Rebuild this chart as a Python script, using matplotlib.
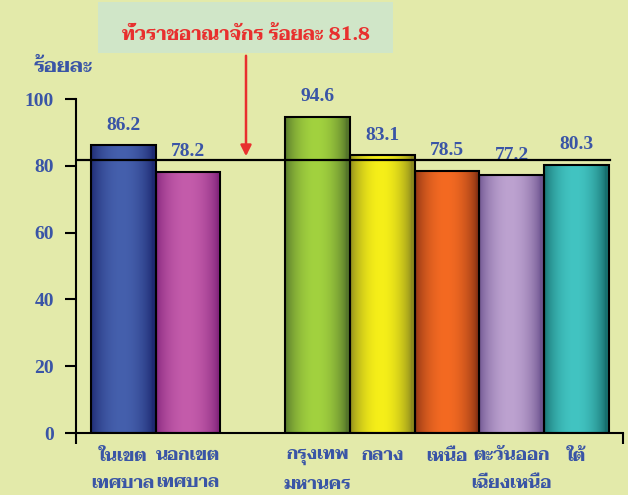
import numpy as np
import matplotlib
matplotlib.use('Agg')
import matplotlib.pyplot as plt
from matplotlib.colors import to_rgb
from matplotlib.patches import Rectangle

# data
categories = ['ในเขต\nเทศบาล', 'นอกเขต\nเทศบาล', 'กรุงเทพ\nมหานคร', 'กลาง', 'เหนือ',
              'ตะวันออก\nเฉียงเหนือ', 'ใต้']
values = [86.2, 78.2, 94.6, 83.1, 78.5, 77.2, 80.3]
positions = [0, 1, 3, 4, 5, 6, 7]
national = 81.8
yticks = [0, 20, 40, 60, 80, 100]

# (edge, centre) colours for the shaded bars
bar_colors = [('#1e2a72', '#4560ad'), ('#86277e', '#c45cab'), ('#55752a', '#a2d23f'),
              ('#8c8a1e', '#f6ef18'), ('#8c3414', '#f46a22'), ('#6e5590', '#bda2d0'),
              ('#17706f', '#42c4c2')]

thai = ['Taviraj', 'Liberation Serif', 'DejaVu Sans']
num = ['Liberation Serif', 'DejaVu Serif']
blue = '#3a55a6'
red = '#e8302e'
bg = '#e3eaaa'

fig = plt.figure(figsize=(6.28, 4.95), dpi=100, facecolor=bg)
ax = fig.add_axes([76/628, 1-433/495, 547/628, 334/495])
ax.set_facecolor(bg)
ax.set_xlim(-0.73, 7.72)
ax.set_ylim(0, 100)

t = np.linspace(0, 1, 64)
shade = np.clip(np.sin(np.pi * np.clip(t * 1.05, 0, 1)) ** 0.7, 0, 1)
for x, v, (c0, c1) in zip(positions, values, bar_colors):
    a, b = np.array(to_rgb(c0)), np.array(to_rgb(c1))
    img = a[None, :] + (b - a)[None, :] * shade[:, None]
    rect = Rectangle((x - 0.5, 0), 1, v, facecolor='none', edgecolor='black', lw=1.5, zorder=3)
    ax.add_patch(rect)
    im = ax.imshow(img[None, :, :], extent=[x - 0.5, x + 0.5, 0, v], aspect='auto', zorder=2)
    im.set_clip_path(rect)
    ax.text(x, v + 6, f'{v:.1f}', ha='center', va='center', color=blue,
            fontsize=14, fontweight='bold', family=num)

ax.plot([-0.73, 7.52], [national, national], color='black', lw=1.6, zorder=4)

for s in ['top', 'right']:
    ax.spines[s].set_visible(False)
for s in ['left', 'bottom']:
    ax.spines[s].set_linewidth(1.5)

ax.set_yticks(yticks)
ax.set_yticklabels([str(y) for y in yticks], color=blue, fontsize=14, fontweight='bold',
                   family=num)
ax.tick_params(axis='y', direction='out', length=8, width=1.5, pad=8)

ax.set_xticks(positions)
ax.set_xticklabels(categories, color=blue, fontsize=12.5, fontweight='bold', family=thai,
                   linespacing=2.0, va='top')
ax.tick_params(axis='x', length=0, pad=11)
ax.set_xticks([-0.73, 7.72], minor=True)
ax.tick_params(axis='x', which='minor', direction='out', length=8, width=1.5)

fig.text(63/628, 1-66/495, 'ร้อยละ', ha='center', va='center', color=blue,
         fontsize=14.5, fontweight='bold', family=thai)

fig.patches.append(Rectangle((98/628, 1-53/495), 295/628, 51/495, transform=fig.transFigure,
                             facecolor='#d0e6c8', edgecolor='none'))
fig.text(246/628, 1-35/495, 'ทั่วราชอาณาจักร ร้อยละ 81.8', ha='center', va='center',
         color=red, fontsize=13.5, fontweight='bold', family=thai)
ax.annotate('', xy=(246/628, 1-159/495), xytext=(246/628, 1-53/495),
            xycoords='figure fraction', textcoords='figure fraction',
            arrowprops=dict(arrowstyle='-|>', color=red, lw=1.8, mutation_scale=16))

fig.savefig('out.png', dpi=100, facecolor=bg)
